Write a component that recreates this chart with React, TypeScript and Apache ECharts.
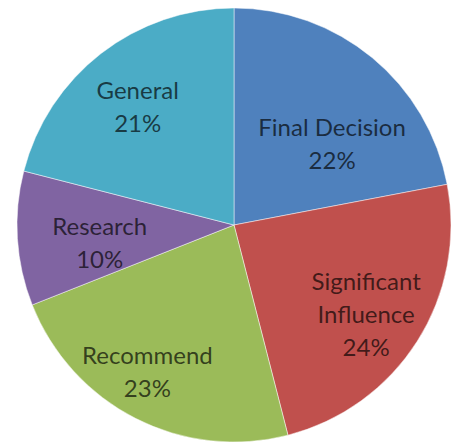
import React, { useEffect, useRef } from "react";
import * as echarts from "echarts";

const categories = ["Final Decision", "Significant\nInfluence", "Recommend", "Research", "General"];
const values = [22, 24, 23, 10, 21];
const colors = ["#4F81BD", "#C0504D", "#9BBB59", "#8064A2", "#4BACC6"];
// label nudges relative to ECharts' inner label position [dx, dy]
const labelOffsets = [
  [27, 4],
  [38, 29],
  [-36, 47],
  [-23, 10],
  [-28, -31],
];

export default function App() {
  const ref = useRef<HTMLDivElement>(null);
  useEffect(() => {
    if (!ref.current) return;
    const chart = echarts.init(ref.current, null, { renderer: "svg" });
    chart.setOption({
      animation: false,
      backgroundColor: "#ffffff",
      series: [
        {
          type: "pie",
          center: [234, 225],
          radius: 217,
          startAngle: 90,
          clockwise: true,
          data: categories.map((c, i) => ({
            name: c,
            value: values[i],
            itemStyle: { color: colors[i] },
          })),
          itemStyle: { borderColor: "rgba(255,255,255,0.6)", borderWidth: 0.8 },
          label: {
            show: true,
            position: "inner",
            formatter: "{b}\n{d}%",
            color: "rgba(0,0,0,0.68)",
            fontFamily: "Lato",
            fontSize: 24,
            lineHeight: 33,
            align: "center",
          },
          labelLine: { show: false },
          labelLayout: (p: any) => ({
            dx: labelOffsets[p.dataIndex][0],
            dy: labelOffsets[p.dataIndex][1],
          }),
          emphasis: { disabled: true },
        },
      ],
    });
    return () => chart.dispose();
  }, []);
  return (
    <div
      ref={ref}
      style={{ position: "fixed", left: 0, top: 0, width: 453, height: 444 }}
    />
  );
}
